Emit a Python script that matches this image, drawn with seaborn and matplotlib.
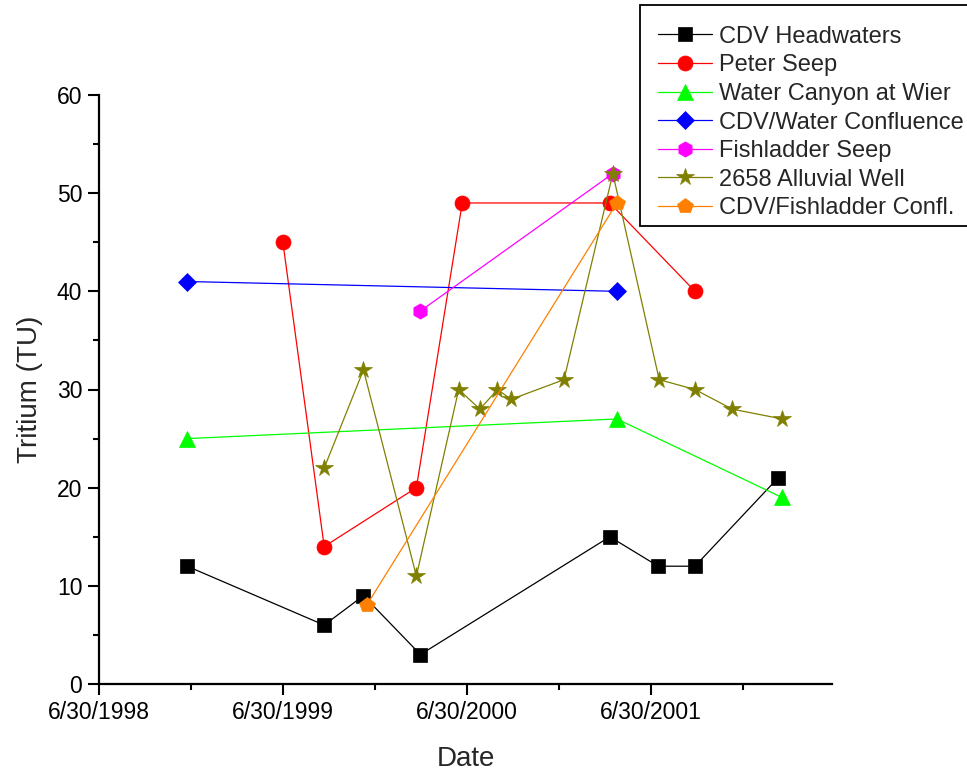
import matplotlib
matplotlib.use("Agg")
import matplotlib.pyplot as plt
import matplotlib.dates as mdates
from matplotlib.patches import Rectangle
from matplotlib.ticker import FixedLocator, FixedFormatter, MultipleLocator
import pandas as pd
import seaborn as sns

# --- sampling data: tritium (TU) by sampling date ---
headwaters_dates = ["1998-12-22", "1999-09-20", "1999-12-07", "2000-03-29",
                    "2001-04-09", "2001-07-14", "2001-09-25", "2002-03-09"]
headwaters_tu = [12, 6, 9, 3, 15, 12, 12, 21]

peter_dates = ["1999-06-30", "1999-09-20", "2000-03-21", "2000-06-20",
               "2001-04-09", "2001-09-25"]
peter_tu = [45, 14, 20, 49, 49, 40]

wier_dates = ["1998-12-22", "2001-04-23", "2002-03-17"]
wier_tu = [25, 27, 19]

confluence_dates = ["1998-12-22", "2001-04-23"]
confluence_tu = [41, 40]

fishladder_dates = ["2000-03-29", "2001-04-15"]
fishladder_tu = [38, 52]

well_dates = ["1999-09-20", "1999-12-07", "2000-03-21", "2000-06-13",
              "2000-07-25", "2000-08-29", "2000-09-25", "2001-01-08",
              "2001-04-15", "2001-07-16", "2001-09-25", "2001-12-08",
              "2002-03-17"]
well_tu = [22, 32, 11, 30, 28, 30, 29, 31, 52, 31, 30, 28, 27]

fl_confl_dates = ["1999-12-13", "2001-04-23"]
fl_confl_tu = [8, 49]

series_names = ["CDV Headwaters", "Peter Seep", "Water Canyon at Wier",
                "CDV/Water Confluence", "Fishladder Seep",
                "2658 Alluvial Well", "CDV/Fishladder Confl."]

x_tick_dates = ["1998-06-30", "1999-06-30", "2000-06-30", "2001-06-30"]
x_tick_labels = ["6/30/1998", "6/30/1999", "6/30/2000", "6/30/2001"]
x_minor_dates = ["1998-12-30", "1999-12-30", "2000-12-30", "2001-12-30"]

# --- styling ---
sns.set_style("ticks")
plt.rcParams["font.family"] = ["Liberation Sans", "DejaVu Sans"]

styles = [
    dict(color="#000000", marker="s", markersize=9.4),
    dict(color="#FF0000", marker="o", markersize=10.8),
    dict(color="#00FF00", marker="^", markersize=11),
    dict(color="#0000FF", marker="D", markersize=9.0),
    dict(color="#FF00FF", marker="h", markersize=11),
    dict(color="#808000", marker="*", markersize=13),
    dict(color="#FF8000", marker="p", markersize=11.5),
]

all_series = [
    (headwaters_dates, headwaters_tu),
    (peter_dates, peter_tu),
    (wier_dates, wier_tu),
    (confluence_dates, confluence_tu),
    (fishladder_dates, fishladder_tu),
    (well_dates, well_tu),
    (fl_confl_dates, fl_confl_tu),
]

W, H = 967, 776
fig = plt.figure(figsize=(W / 100, H / 100), dpi=100)
ax = fig.add_axes([99 / W, 92 / H, 733 / W, 589 / H])

for name, (dates, vals), st in zip(series_names, all_series, styles):
    df = pd.DataFrame({"Date": pd.to_datetime(dates), "Tritium": vals})
    sns.lineplot(data=df, x="Date", y="Tritium", ax=ax, sort=False,
                 color=st["color"], marker=st["marker"],
                 markersize=st["markersize"], markeredgecolor=st["color"],
                 markerfacecolor=st["color"], markeredgewidth=0.5,
                 linewidth=0.9, label=name, clip_on=False)

# axes limits and ticks
ax.set_xlim(pd.Timestamp("1998-06-30"), pd.Timestamp("2002-06-24"))
ax.set_ylim(0, 60)
ax.xaxis.set_major_locator(FixedLocator(mdates.date2num(pd.to_datetime(x_tick_dates))))
ax.xaxis.set_major_formatter(FixedFormatter(x_tick_labels))
ax.xaxis.set_minor_locator(FixedLocator(mdates.date2num(pd.to_datetime(x_minor_dates))))
ax.yaxis.set_major_locator(MultipleLocator(10))
ax.yaxis.set_minor_locator(MultipleLocator(5))

sns.despine(ax=ax)
for side in ("left", "bottom"):
    ax.spines[side].set_linewidth(1.6)
    ax.spines[side].set_color("black")
ax.tick_params(which="major", direction="out", length=8, width=1.5,
               labelsize=16.5, colors="black", pad=4)
ax.tick_params(which="minor", direction="out", length=4.5, width=1.5,
               colors="black")

ax.set_xlabel("Date", fontsize=20, labelpad=16)
ax.set_ylabel("Tritium (TU)", fontsize=20, labelpad=10)

# legend entries without their own frame; a separate box is drawn around them
leg = ax.legend(loc="upper left", bbox_to_anchor=(640 / W, 1 - 8 / H),
                bbox_transform=fig.transFigure, borderaxespad=0,
                fontsize=17, frameon=False,
                handlelength=2.3, handletextpad=0.3, labelspacing=0.28,
                borderpad=0.75, numpoints=1)
leg.set_zorder(6)

legend_box = Rectangle((640 / W, 1 - 226 / H), 330 / W, 221 / H,
                       transform=fig.transFigure, facecolor="white",
                       edgecolor="black", linewidth=1.3, zorder=5,
                       clip_on=False)
ax.add_patch(legend_box)

fig.savefig("out.png", dpi=100)
